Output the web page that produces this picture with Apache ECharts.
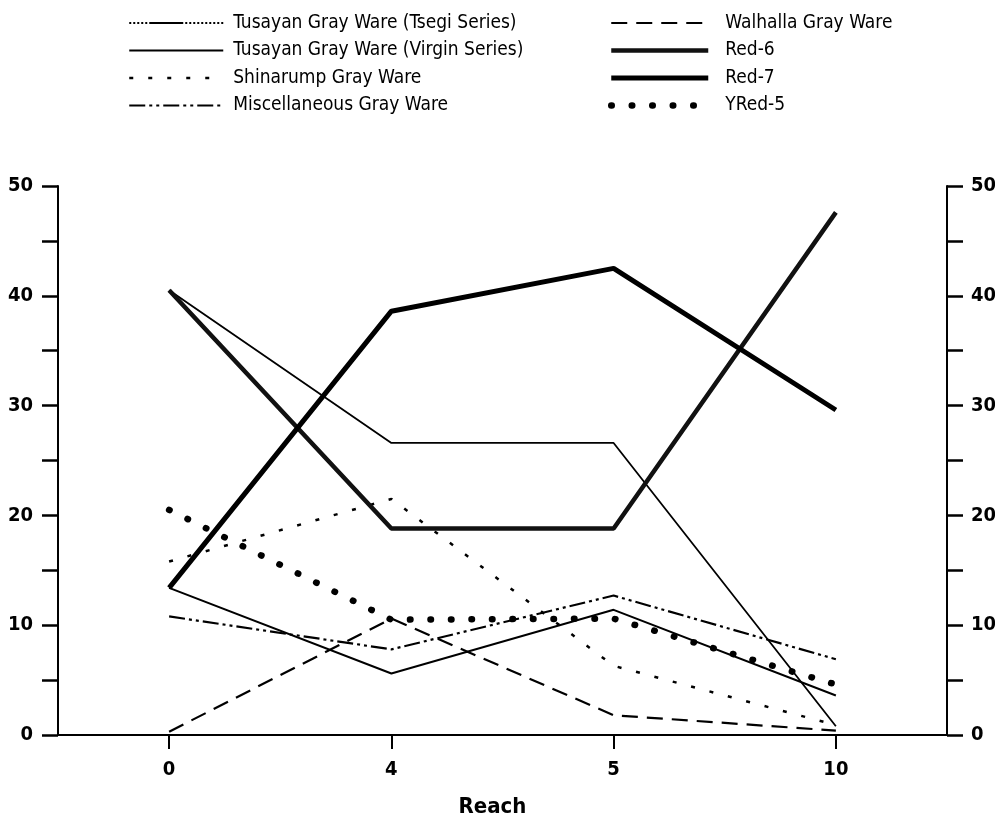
<!DOCTYPE html>
<html>
<head>
<meta charset="utf-8">
<script src="https://cdn.jsdelivr.net/npm/echarts@6/dist/echarts.min.js"></script>
<style>html,body{margin:0;padding:0;background:#fff}#c{width:995px;height:822px}</style>
</head>
<body>
<div id="c"></div>
<script>
const categories = ['0', '4', '5', '10'];
const tsegi = [40.5, 26.6, 26.6, 0.8];
const virgin = [13.4, 5.6, 11.4, 3.6];
const shinarump = [15.8, 21.5, 6.3, 0.9];
const misc = [10.8, 7.8, 12.7, 6.9];
const walhalla = [0.3, 10.6, 1.8, 0.4];
const red6 = [40.5, 18.8, 18.8, 47.6];
const red7 = [13.4, 38.6, 42.5, 29.6];
const yred5 = [20.5, 10.5, 10.6, 4.6];
const names = ['Tusayan Gray Ware (Tsegi Series)', 'Tusayan Gray Ware (Virgin Series)', 'Shinarump Gray Ware', 'Miscellaneous Gray Ware', 'Walhalla Gray Ware', 'Red-6', 'Red-7', 'YRed-5'];
const yMin = 0, yMax = 50, yStep = 5;

const FONT = "'Liberation Sans Narrow', 'DejaVu Sans Condensed', 'Liberation Sans', Arial, sans-serif";
const chart = echarts.init(document.getElementById('c'), null, {renderer: 'canvas'});

function mk(name, data, ls) {
  return {
    name: name, type: 'line', data: data, symbol: 'none', yAxisIndex: 0,
    lineStyle: Object.assign({color: '#000', width: 1.8}, ls),
    itemStyle: {color: '#000'}, silent: true, animation: false
  };
}

const yAxisBase = (pos, margin) => ({
  type: 'value', min: yMin, max: yMax, interval: yStep, position: pos,
  splitLine: {show: false},
  axisLine: {show: true, lineStyle: {color: '#000', width: 2}},
  axisTick: {show: true, inside: false, length: 16, lineStyle: {color: '#000', width: 2.5}},
  axisLabel: {
    margin: margin, color: '#000', fontFamily: FONT, fontWeight: 'bold', fontSize: 20,
    formatter: v => (v % 10 === 0 ? String(v) : '')
  }
});

const hiddenSym = {color: 'transparent', borderColor: 'transparent', borderWidth: 0, opacity: 0};
const legendText1 = {color: '#000', fontFamily: FONT, fontSize: 19, padding: [0, 0, 0, 5], lineHeight: 20};
const legendText2 = {color: '#000', fontFamily: FONT, fontSize: 19, padding: [0, 0, 0, 12], lineHeight: 20};
const legendLine = {width: 'inherit', type: 'inherit', color: 'inherit', cap: 'inherit'};
const tsegiLegendDash = [2, 2, 2, 2, 2, 2, 2, 2, 2, 2, 34, 2, 2, 2, 2, 2, 2, 2, 2, 2];

chart.setOption({
  animation: false,
  backgroundColor: '#fff',
  grid: {left: 58, right: 48, top: 186, bottom: 87, containLabel: false, outerBoundsMode: 'none'},
  legend: [
    {
      data: [
        {name: names[0], lineStyle: {type: tsegiLegendDash, width: 1.8}},
        {name: names[1]}, {name: names[2]}, {name: names[3]}
      ],
      orient: 'vertical', left: 128, top: 13, padding: 0, itemWidth: 94, itemHeight: 14, itemGap: 7.5,
      textStyle: legendText1, selectedMode: false, itemStyle: hiddenSym, lineStyle: legendLine
    },
    {
      data: names.slice(4),
      orient: 'vertical', left: 608, top: 13, padding: 0, itemWidth: 97, itemHeight: 14, itemGap: 7.5,
      textStyle: legendText2, selectedMode: false, itemStyle: hiddenSym, lineStyle: legendLine
    }
  ],
  xAxis: {
    type: 'category', data: categories, boundaryGap: true,
    name: 'Reach', nameLocation: 'middle', nameGap: 61,
    nameTextStyle: {color: '#000', fontFamily: FONT, fontWeight: 'bold', fontSize: 22, padding: [0, 20, 0, 0]},
    axisLine: {show: true, lineStyle: {color: '#000', width: 2}},
    axisTick: {show: true, alignWithLabel: true, inside: false, length: 14, lineStyle: {color: '#000', width: 2}},
    axisLabel: {margin: 25, color: '#000', fontFamily: FONT, fontWeight: 'bold', fontSize: 20},
    splitLine: {show: false}
  },
  yAxis: [yAxisBase('left', 25), yAxisBase('right', 24)],
  series: [
    mk(names[0], tsegi, {width: 1.8}),
    mk(names[1], virgin, {width: 2}),
    mk(names[2], shinarump, {width: 2.5, type: [4, 15], cap: 'butt'}),
    mk(names[3], misc, {width: 2.2, type: [16, 4, 3, 4, 3, 4]}),
    mk(names[4], walhalla, {width: 2.2, type: [16, 9]}),
    mk(names[5], red6, {width: 4.5, color: '#111'}),
    mk(names[6], red7, {width: 5}),
    mk(names[7], yred5, {width: 6.5, type: [0.5, 20], cap: 'round'})
  ]
});
</script>
</body>
</html>
